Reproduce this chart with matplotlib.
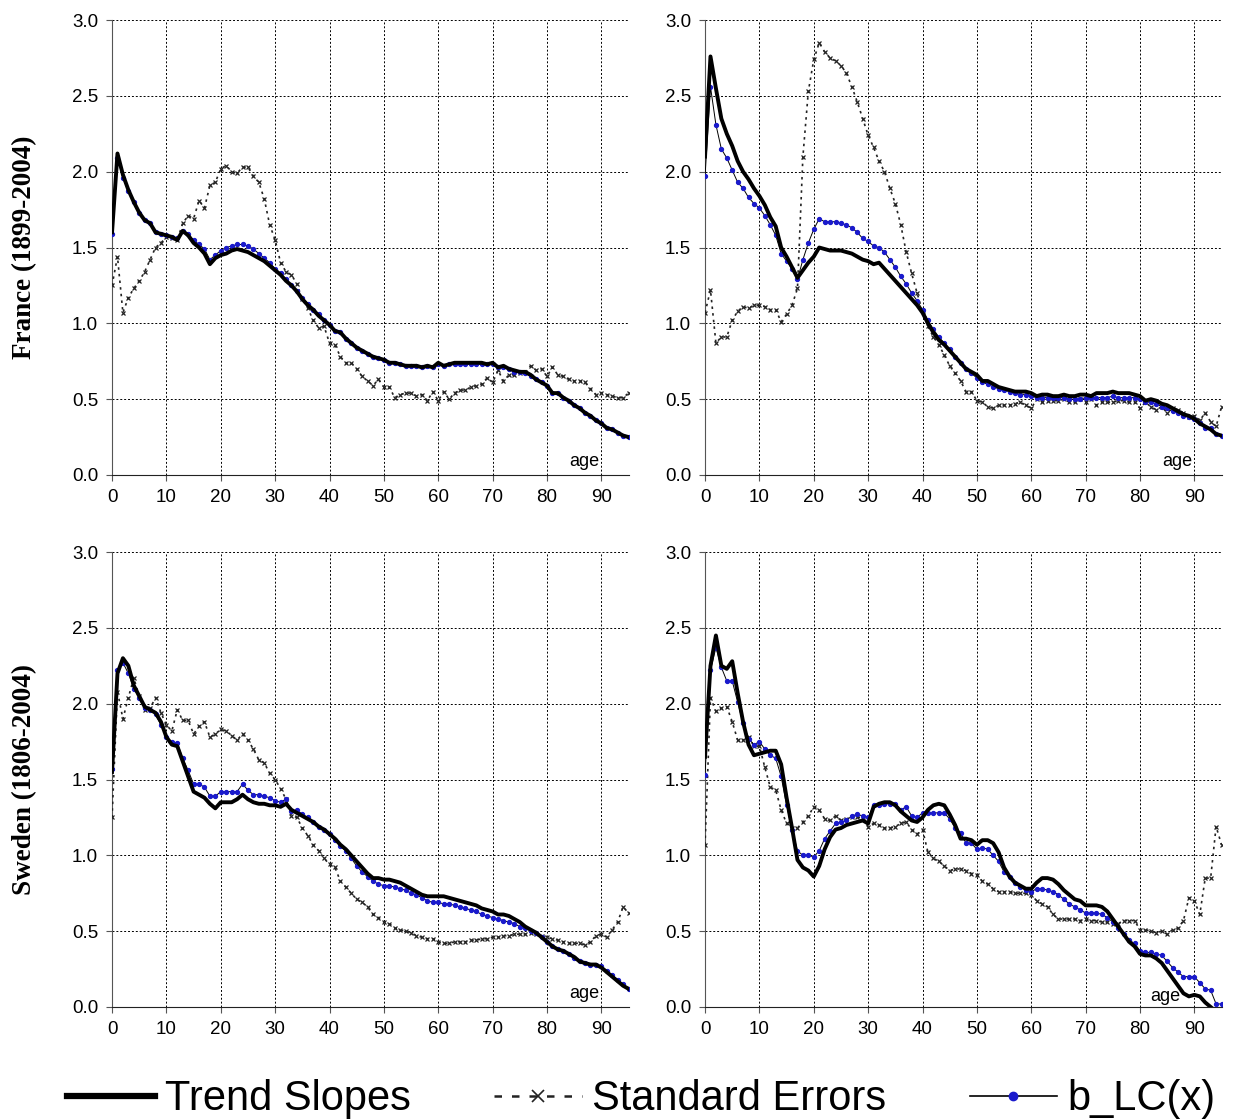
import numpy as np
import matplotlib.pyplot as plt
from matplotlib.lines import Line2D

ages = np.arange(0, 96)

# France, left panel
fr_trend_l = [1.60, 2.12, 1.98, 1.88, 1.80, 1.73, 1.68, 1.66, 1.60, 1.59,
              1.58, 1.57, 1.55, 1.61, 1.58, 1.53, 1.50, 1.46, 1.39, 1.43,
              1.45, 1.46, 1.48, 1.49, 1.48, 1.47, 1.45, 1.43, 1.41, 1.38,
              1.35, 1.32, 1.28, 1.25, 1.21, 1.16, 1.12, 1.09, 1.05, 1.02,
              0.99, 0.95, 0.94, 0.90, 0.87, 0.84, 0.82, 0.80, 0.78, 0.77,
              0.76, 0.74, 0.74, 0.73, 0.72, 0.72, 0.72, 0.71, 0.72, 0.71,
              0.74, 0.72, 0.73, 0.74, 0.74, 0.74, 0.74, 0.74, 0.74, 0.73,
              0.74, 0.71, 0.72, 0.70, 0.69, 0.68, 0.68, 0.66, 0.63, 0.61,
              0.59, 0.54, 0.54, 0.51, 0.49, 0.46, 0.44, 0.41, 0.39, 0.36,
              0.34, 0.31, 0.30, 0.28, 0.26, 0.25]
fr_blc_l = [1.59, 2.09, 1.96, 1.87, 1.80, 1.73, 1.68, 1.66, 1.60, 1.59,
            1.58, 1.57, 1.56, 1.61, 1.59, 1.55, 1.52, 1.49, 1.42, 1.45,
            1.48, 1.50, 1.51, 1.52, 1.52, 1.51, 1.49, 1.46, 1.43, 1.40,
            1.36, 1.33, 1.29, 1.25, 1.21, 1.17, 1.13, 1.09, 1.06, 1.02,
            0.99, 0.95, 0.94, 0.90, 0.87, 0.84, 0.82, 0.80, 0.78, 0.77,
            0.76, 0.74, 0.74, 0.73, 0.72, 0.72, 0.72, 0.71, 0.72, 0.71,
            0.73, 0.72, 0.73, 0.73, 0.73, 0.73, 0.73, 0.73, 0.73, 0.73,
            0.73, 0.71, 0.71, 0.70, 0.68, 0.68, 0.67, 0.65, 0.63, 0.61,
            0.59, 0.54, 0.54, 0.51, 0.49, 0.46, 0.44, 0.41, 0.39, 0.36,
            0.34, 0.31, 0.30, 0.28, 0.26, 0.25]
fr_se_l = [1.25, 1.44, 1.07, 1.17, 1.23, 1.28, 1.34, 1.42, 1.50, 1.53,
           1.57, 1.56, 1.55, 1.66, 1.71, 1.69, 1.81, 1.76, 1.91, 1.93,
           2.02, 2.04, 2.00, 1.99, 2.03, 2.03, 1.97, 1.93, 1.82, 1.65,
           1.55, 1.40, 1.34, 1.32, 1.26, 1.16, 1.10, 1.02, 0.97, 0.98,
           0.87, 0.86, 0.78, 0.74, 0.74, 0.70, 0.65, 0.62, 0.59, 0.63,
           0.58, 0.58, 0.51, 0.53, 0.54, 0.54, 0.52, 0.53, 0.49, 0.55,
           0.49, 0.55, 0.50, 0.54, 0.56, 0.56, 0.58, 0.59, 0.60, 0.64,
           0.61, 0.69, 0.62, 0.66, 0.66, 0.67, 0.68, 0.72, 0.69, 0.70,
           0.65, 0.71, 0.66, 0.65, 0.63, 0.62, 0.62, 0.61, 0.57, 0.53,
           0.54, 0.53, 0.52, 0.51, 0.51, 0.54]

# France, right panel
fr_trend_r = [2.10, 2.76, 2.55, 2.35, 2.25, 2.17, 2.07, 2.00, 1.95, 1.89,
              1.84, 1.78, 1.70, 1.64, 1.50, 1.44, 1.37, 1.30, 1.35, 1.40,
              1.44, 1.50, 1.49, 1.48, 1.48, 1.48, 1.47, 1.46, 1.44, 1.42,
              1.41, 1.39, 1.40, 1.36, 1.32, 1.28, 1.24, 1.20, 1.16, 1.12,
              1.07, 1.00, 0.94, 0.89, 0.86, 0.82, 0.78, 0.74, 0.70, 0.68,
              0.66, 0.62, 0.62, 0.60, 0.58, 0.57, 0.56, 0.55, 0.55, 0.55,
              0.54, 0.52, 0.53, 0.53, 0.52, 0.52, 0.53, 0.52, 0.52, 0.53,
              0.53, 0.52, 0.54, 0.54, 0.54, 0.55, 0.54, 0.54, 0.54, 0.53,
              0.52, 0.49, 0.50, 0.49, 0.47, 0.46, 0.44, 0.42, 0.40, 0.39,
              0.37, 0.34, 0.32, 0.30, 0.27, 0.26]
fr_blc_r = [1.97, 2.56, 2.31, 2.15, 2.09, 2.01, 1.93, 1.89, 1.83, 1.79,
            1.76, 1.71, 1.65, 1.58, 1.46, 1.41, 1.36, 1.29, 1.42, 1.53,
            1.62, 1.69, 1.67, 1.67, 1.67, 1.66, 1.65, 1.63, 1.60, 1.56,
            1.54, 1.51, 1.50, 1.47, 1.42, 1.37, 1.31, 1.26, 1.20, 1.15,
            1.09, 1.02, 0.96, 0.91, 0.87, 0.83, 0.78, 0.74, 0.70, 0.67,
            0.64, 0.61, 0.60, 0.58, 0.57, 0.56, 0.55, 0.54, 0.53, 0.53,
            0.52, 0.51, 0.51, 0.51, 0.51, 0.51, 0.51, 0.50, 0.50, 0.50,
            0.51, 0.51, 0.51, 0.51, 0.51, 0.52, 0.51, 0.51, 0.51, 0.51,
            0.50, 0.48, 0.48, 0.47, 0.45, 0.44, 0.42, 0.41, 0.39, 0.38,
            0.37, 0.34, 0.31, 0.31, 0.27, 0.26]
fr_se_r = [1.07, 1.22, 0.87, 0.91, 0.91, 1.02, 1.08, 1.11, 1.10, 1.12,
           1.12, 1.11, 1.09, 1.09, 1.01, 1.06, 1.12, 1.23, 2.10, 2.53,
           2.74, 2.85, 2.79, 2.75, 2.73, 2.70, 2.65, 2.56, 2.46, 2.35,
           2.24, 2.16, 2.07, 2.00, 1.89, 1.79, 1.65, 1.47, 1.33, 1.20,
           1.08, 0.98, 0.91, 0.86, 0.79, 0.72, 0.67, 0.62, 0.55, 0.55,
           0.49, 0.48, 0.45, 0.44, 0.46, 0.46, 0.46, 0.47, 0.48, 0.46,
           0.44, 0.50, 0.48, 0.49, 0.49, 0.49, 0.50, 0.48, 0.48, 0.50,
           0.48, 0.50, 0.46, 0.48, 0.48, 0.48, 0.49, 0.49, 0.48, 0.48,
           0.44, 0.48, 0.45, 0.43, 0.45, 0.41, 0.44, 0.43, 0.41, 0.38,
           0.39, 0.36, 0.41, 0.35, 0.32, 0.45]

# Sweden, left panel
sw_trend_l = [1.55, 2.20, 2.30, 2.25, 2.12, 2.05, 1.98, 1.96, 1.94, 1.88,
              1.78, 1.73, 1.72, 1.62, 1.52, 1.42, 1.40, 1.38, 1.34, 1.31,
              1.35, 1.35, 1.35, 1.37, 1.40, 1.37, 1.35, 1.34, 1.34, 1.33,
              1.33, 1.32, 1.34, 1.30, 1.28, 1.26, 1.24, 1.22, 1.19, 1.17,
              1.14, 1.11, 1.07, 1.04, 1.00, 0.96, 0.92, 0.88, 0.85, 0.85,
              0.84, 0.84, 0.83, 0.82, 0.80, 0.78, 0.76, 0.74, 0.73, 0.73,
              0.73, 0.73, 0.72, 0.71, 0.70, 0.69, 0.68, 0.67, 0.65, 0.64,
              0.63, 0.61, 0.61, 0.60, 0.58, 0.56, 0.53, 0.51, 0.49, 0.46,
              0.43, 0.40, 0.38, 0.37, 0.35, 0.33, 0.30, 0.29, 0.28, 0.28,
              0.26, 0.23, 0.20, 0.17, 0.14, 0.12]
sw_blc_l = [1.57, 2.22, 2.27, 2.20, 2.10, 2.04, 1.97, 1.96, 1.93, 1.86,
            1.78, 1.75, 1.74, 1.64, 1.56, 1.47, 1.47, 1.45, 1.39, 1.39,
            1.42, 1.42, 1.42, 1.42, 1.47, 1.43, 1.40, 1.40, 1.39, 1.38,
            1.36, 1.35, 1.37, 1.29, 1.30, 1.27, 1.25, 1.22, 1.19, 1.17,
            1.14, 1.10, 1.06, 1.03, 0.98, 0.93, 0.89, 0.86, 0.83, 0.81,
            0.80, 0.80, 0.79, 0.78, 0.77, 0.75, 0.74, 0.72, 0.70, 0.69,
            0.69, 0.68, 0.68, 0.67, 0.66, 0.65, 0.64, 0.63, 0.61, 0.60,
            0.59, 0.58, 0.57, 0.56, 0.55, 0.53, 0.52, 0.50, 0.49, 0.46,
            0.43, 0.40, 0.38, 0.37, 0.35, 0.32, 0.30, 0.29, 0.28, 0.28,
            0.27, 0.24, 0.21, 0.18, 0.15, 0.12]
sw_se_l = [1.25, 2.08, 1.90, 2.04, 2.17, 2.05, 1.96, 1.97, 2.04, 1.94,
           1.86, 1.82, 1.96, 1.89, 1.89, 1.80, 1.85, 1.88, 1.78, 1.80,
           1.83, 1.82, 1.79, 1.76, 1.80, 1.76, 1.70, 1.63, 1.61, 1.54,
           1.50, 1.44, 1.37, 1.26, 1.25, 1.18, 1.13, 1.07, 1.03, 0.98,
           0.94, 0.92, 0.83, 0.79, 0.75, 0.71, 0.69, 0.66, 0.61, 0.59,
           0.56, 0.55, 0.52, 0.51, 0.50, 0.49, 0.47, 0.46, 0.45, 0.45,
           0.43, 0.42, 0.42, 0.43, 0.43, 0.43, 0.44, 0.44, 0.45, 0.45,
           0.46, 0.46, 0.47, 0.47, 0.48, 0.48, 0.48, 0.49, 0.48, 0.47,
           0.46, 0.45, 0.44, 0.43, 0.42, 0.42, 0.42, 0.41, 0.43, 0.47,
           0.48, 0.46, 0.51, 0.56, 0.66, 0.62]

# Sweden, right panel
sw_trend_r = [1.65, 2.25, 2.45, 2.25, 2.23, 2.28, 2.07, 1.88, 1.73, 1.66,
              1.67, 1.68, 1.69, 1.69, 1.60, 1.38, 1.18, 0.97, 0.92, 0.90,
              0.86, 0.93, 1.04, 1.12, 1.17, 1.18, 1.20, 1.21, 1.22, 1.23,
              1.21, 1.32, 1.34, 1.35, 1.35, 1.33, 1.29, 1.26, 1.23, 1.22,
              1.25, 1.30, 1.33, 1.34, 1.33, 1.27, 1.20, 1.11, 1.11, 1.10,
              1.07, 1.10, 1.10, 1.08, 1.02, 0.92, 0.86, 0.82, 0.80, 0.78,
              0.78, 0.82, 0.85, 0.85, 0.84, 0.81, 0.77, 0.74, 0.71, 0.70,
              0.67, 0.67, 0.67, 0.66, 0.63, 0.58, 0.53, 0.48, 0.43, 0.40,
              0.35, 0.34, 0.34, 0.32, 0.29, 0.24, 0.19, 0.14, 0.09, 0.07,
              0.08, 0.07, 0.03, 0.00, -0.03, -0.05]
sw_blc_r = [1.53, 2.22, 2.37, 2.24, 2.15, 2.15, 2.01, 1.87, 1.77, 1.73,
            1.75, 1.70, 1.66, 1.64, 1.52, 1.33, 1.17, 1.03, 1.00, 1.00,
            0.99, 1.03, 1.11, 1.16, 1.21, 1.22, 1.23, 1.26, 1.27, 1.26,
            1.25, 1.33, 1.33, 1.34, 1.34, 1.34, 1.30, 1.32, 1.26, 1.25,
            1.28, 1.28, 1.28, 1.28, 1.28, 1.24, 1.18, 1.15, 1.08, 1.08,
            1.04, 1.05, 1.04, 1.00, 0.96, 0.89, 0.86, 0.82, 0.79, 0.77,
            0.76, 0.78, 0.78, 0.77, 0.76, 0.74, 0.71, 0.68, 0.66, 0.64,
            0.62, 0.62, 0.62, 0.61, 0.59, 0.56, 0.52, 0.48, 0.44, 0.42,
            0.37, 0.36, 0.36, 0.35, 0.34, 0.30, 0.26, 0.23, 0.20, 0.20,
            0.20, 0.16, 0.12, 0.11, 0.02, 0.02]
sw_se_r = [1.07, 2.04, 1.95, 1.97, 1.98, 1.88, 1.76, 1.76, 1.78, 1.72,
           1.72, 1.58, 1.45, 1.43, 1.30, 1.21, 1.18, 1.18, 1.22, 1.26,
           1.32, 1.30, 1.24, 1.23, 1.26, 1.23, 1.24, 1.25, 1.25, 1.25,
           1.19, 1.21, 1.20, 1.18, 1.18, 1.19, 1.21, 1.22, 1.17, 1.14,
           1.17, 1.02, 0.98, 0.96, 0.93, 0.90, 0.91, 0.91, 0.90, 0.88,
           0.87, 0.83, 0.81, 0.78, 0.76, 0.76, 0.76, 0.75, 0.75, 0.75,
           0.74, 0.70, 0.68, 0.66, 0.61, 0.58, 0.58, 0.58, 0.58, 0.57,
           0.58, 0.57, 0.57, 0.56, 0.56, 0.55, 0.55, 0.57, 0.57, 0.57,
           0.51, 0.51, 0.50, 0.49, 0.50, 0.48, 0.51, 0.52, 0.57, 0.72,
           0.70, 0.61, 0.85, 0.85, 1.19, 1.07]

row_labels = ["France (1899-2004)", "Sweden (1806-2004)"]
panels = [[(fr_trend_l, fr_se_l, fr_blc_l), (fr_trend_r, fr_se_r, fr_blc_r)],
          [(sw_trend_l, sw_se_l, sw_blc_l), (sw_trend_r, sw_se_r, sw_blc_r)]]
age_label_pos = [[(86.8, 0.09), (86.8, 0.09)], [(86.8, 0.09), (84.7, 0.07)]]
legend_labels = ["Trend Slopes", "Standard Errors", "b_LC(x)"]

plt.rcParams['font.family'] = ['Liberation Sans', 'DejaVu Sans']

fig = plt.figure(figsize=(12.38, 11.2), dpi=100)

lefts = [0.0905, 0.5695]
width = 0.4172
bottoms = [0.5759, 0.1009]
height = 0.4062
blue = '#1a1acc'

for i in range(2):
    for j in range(2):
        trend, se, blc = panels[i][j]
        ax = fig.add_axes([lefts[j], bottoms[i], width, height])
        ax.plot(ages, se, color='#222222', ls=(0, (1.5, 2.5)), lw=1.2,
                marker='x', ms=3.5, mew=0.9, zorder=3)
        ax.plot(ages, blc, color='black', lw=0.7, marker='o', ms=2.8,
                mfc=blue, mec=blue, zorder=4)
        ax.plot(ages, trend, color='black', lw=2.8, zorder=5)
        ax.set_xlim(0, 95)
        ax.set_ylim(0, 3.0)
        ax.set_xticks(range(0, 100, 10))
        ax.set_yticks(np.arange(0, 3.01, 0.5))
        ax.set_yticklabels([f"{v:.1f}" for v in np.arange(0, 3.01, 0.5)])
        ax.grid(True, color='black', ls=(0, (2, 2)), lw=0.7)
        for s in ['top', 'right']:
            ax.spines[s].set_visible(False)
        ax.spines['left'].set_color('#555555')
        ax.spines['bottom'].set_color('#222222')
        ax.tick_params(labelsize=13.5, length=4, color='#555555', pad=6)
        ax.text(*age_label_pos[i][j], "age", fontsize=13, ha='center',
                va='center', zorder=6)
        if j == 0:
            ax.set_ylabel(row_labels[i], family='Liberation Serif',
                          fontweight='bold', fontsize=19.5)
            ax.yaxis.set_label_coords(-0.145, 0.5)

handles = [
    Line2D([], [], color='black', lw=4.5),
    Line2D([], [], color='#222222', ls=(0, (3, 4)), lw=1.8, marker='x',
           ms=8, mew=1.2),
    Line2D([], [], color='black', lw=1.2, marker='o', ms=6, mfc=blue,
           mec=blue),
]
fig.legend(handles, legend_labels, loc='lower center', ncol=3,
           bbox_to_anchor=(0.518, -0.033), frameon=False, fontsize=30,
           handlelength=2.1, handletextpad=0.25, columnspacing=2.0,
           numpoints=1)

fig.savefig("out.png", dpi=100)
